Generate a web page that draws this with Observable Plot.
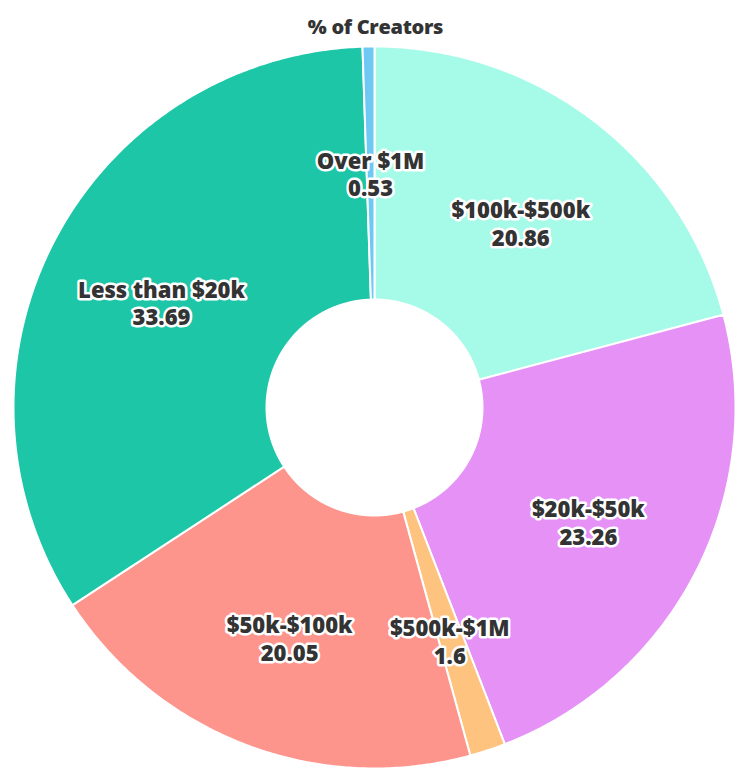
<!DOCTYPE html>
<html>
<head>
<meta charset="utf-8">
<script src="https://cdn.jsdelivr.net/npm/d3@7"></script>
<script src="https://cdn.jsdelivr.net/npm/@observablehq/plot@0.6"></script>
<style>
  html, body { margin: 0; padding: 0; background: #fff; }
  #title { height: 40px; box-sizing: border-box; padding-top: 17px; font: 800 20px "Open Sans", sans-serif; line-height: 20px; color: #333; text-align: center; width: 737px; padding-left: 14px; letter-spacing: -0.3px; }
  #chart svg { display: block; }
</style>
</head>
<body>
<div id="title">% of Creators</div>
<div id="chart"></div>
<script>
// Data (clockwise from 12 o'clock)
const categories = ["$100k-$500k", "$20k-$50k", "$500k-$1M", "$50k-$100k", "Less than $20k", "Over $1M"];
const values = [20.86, 23.26, 1.6, 20.05, 33.69, 0.53];
const palette = ["#a6fae8", "#e591f6", "#fec47f", "#fd958c", "#1cc6a6", "#6dc8f3"];

// Layout
const W = 737, H = 729;
const cx = 374, cy = 367, R = 361, innerFrac = 108 / 361, labelFrac = 240 / 361;

const total = d3.sum(values);
let acc = 0;
const slices = categories.map((c, i) => {
  const a0 = acc / total * 2 * Math.PI;
  acc += values[i];
  const a1 = acc / total * 2 * Math.PI;
  return {category: c, value: values[i], a0, a1};
});

// Polygon outlines for each annular slice (unit radius = outer radius)
const pts = [];
for (const s of slices) {
  const n = Math.max(2, Math.ceil((s.a1 - s.a0) / (Math.PI / 360)));
  for (let k = 0; k <= n; k++) {
    const a = s.a0 + (s.a1 - s.a0) * k / n;
    pts.push({category: s.category, x: Math.sin(a), y: Math.cos(a)});
  }
  for (let k = n; k >= 0; k--) {
    const a = s.a0 + (s.a1 - s.a0) * k / n;
    pts.push({category: s.category, x: innerFrac * Math.sin(a), y: innerFrac * Math.cos(a)});
  }
}

const labels = slices.map(s => {
  const m = (s.a0 + s.a1) / 2;
  return {category: s.category, value: s.value, x: labelFrac * Math.sin(m), y: labelFrac * Math.cos(m)};
});

const chart = Plot.plot({
  width: W,
  height: H,
  margin: 0,
  x: {domain: [-cx / R, (W - cx) / R], axis: null},
  y: {domain: [-(H - cy) / R, cy / R], axis: null},
  color: {domain: categories, range: palette},
  style: {fontFamily: "'Open Sans', sans-serif"},
  marks: [
    Plot.line(pts, {x: "x", y: "y", z: "category", fill: "category", stroke: "white", strokeWidth: 2, curve: "linear-closed"}),
    Plot.text(labels, {
      x: "x", y: "y", dy: 6,
      text: d => `${d.category}\n${d.value}`,
      fontSize: 22, fontWeight: 800, lineHeight: 1.25,
      fill: "#333", stroke: "white", strokeWidth: 5, strokeLinejoin: "round"
    })
  ]
});
document.getElementById("chart").appendChild(chart);
</script>
</body>
</html>
